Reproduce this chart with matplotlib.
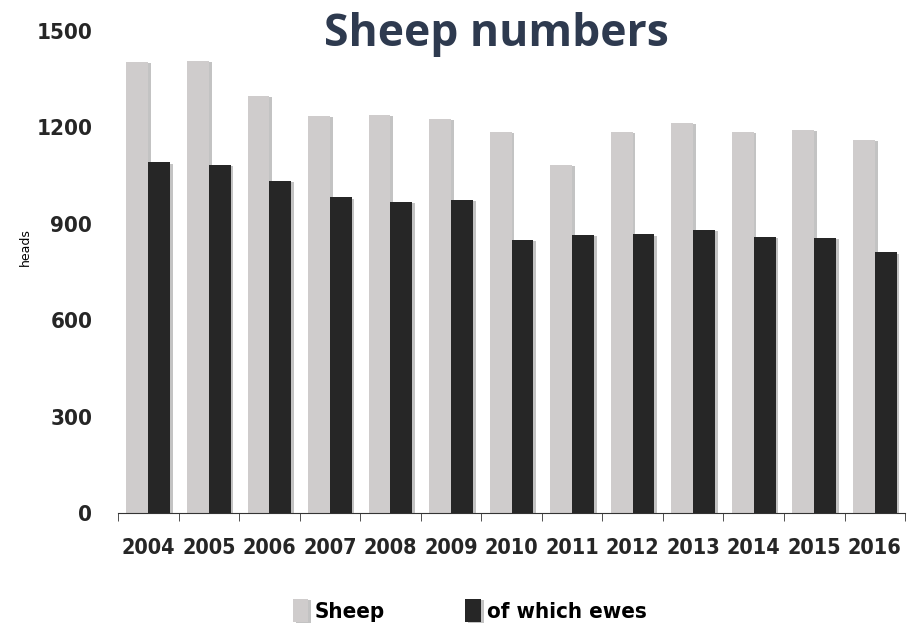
import numpy as np
import matplotlib.pyplot as plt
import matplotlib.patheffects as pe

# values (heads)
years = ['2004', '2005', '2006', '2007', '2008', '2009', '2010',
         '2011', '2012', '2013', '2014', '2015', '2016']
sheep = [1404, 1407, 1298, 1236, 1239, 1226, 1186, 1083, 1186, 1214, 1186, 1192, 1161]
ewes = [1092, 1083, 1033, 983, 968, 974, 850, 865, 868, 881, 859, 856, 812]
yticks = [0, 300, 600, 900, 1200, 1500]

tick_prop = dict(family='DejaVu Sans', fontweight='bold', fontstretch='condensed', color='#262626')

fig = plt.figure(figsize=(9.11, 6.28), dpi=100)
ax = fig.add_axes([0.1295, 0.183, 0.864, 0.7676])

x = np.arange(len(years))
w = 0.36
shadow = [pe.SimplePatchShadow(offset=(2, -1), shadow_rgbFace='#888888', alpha=0.5), pe.Normal()]
b1 = ax.bar(x - w / 2, sheep, w, color='#cfcccc', label='Sheep')
b2 = ax.bar(x + w / 2, ewes, w, color='#262626', label='of which ewes')
for b in list(b1) + list(b2):
    b.set_path_effects(shadow)

ax.set_xlim(-0.5, len(years) - 0.5)
ax.set_ylim(0, 1500)
ax.set_yticks(yticks)
ax.set_yticklabels([str(v) for v in yticks], fontsize=16, **tick_prop)
ax.set_xticks(x)
ax.set_xticklabels(years, fontsize=15.5, **tick_prop)
ax.set_xticks(np.arange(len(years) + 1) - 0.5, minor=True)
ax.tick_params(axis='x', which='major', length=0, pad=18)
ax.tick_params(axis='x', which='minor', length=6, direction='out', color='#333333')
ax.tick_params(axis='y', length=0, pad=18.5)

for s in ['top', 'right', 'left']:
    ax.spines[s].set_visible(False)
ax.spines['bottom'].set_color('#333333')

ax.set_ylabel('heads', fontsize=9, labelpad=4)
ax.yaxis.set_label_coords(-0.11, 0.552)

fig.text(0.545, 0.945, 'Sheep numbers', ha='center', va='center', fontsize=32,
         fontweight='bold', color='#2e3a4f', family='Open Sans')

fig.legend(handles=[b1, b2], loc='center', bbox_to_anchor=(0.516, 0.028), ncol=2,
           frameon=False, handlelength=0.7, handleheight=1.2, handletextpad=0.3,
           columnspacing=3.6, prop={'family': 'DejaVu Sans', 'weight': 'bold',
                                    'stretch': 'condensed', 'size': 16})

fig.savefig('out.png', dpi=100)
